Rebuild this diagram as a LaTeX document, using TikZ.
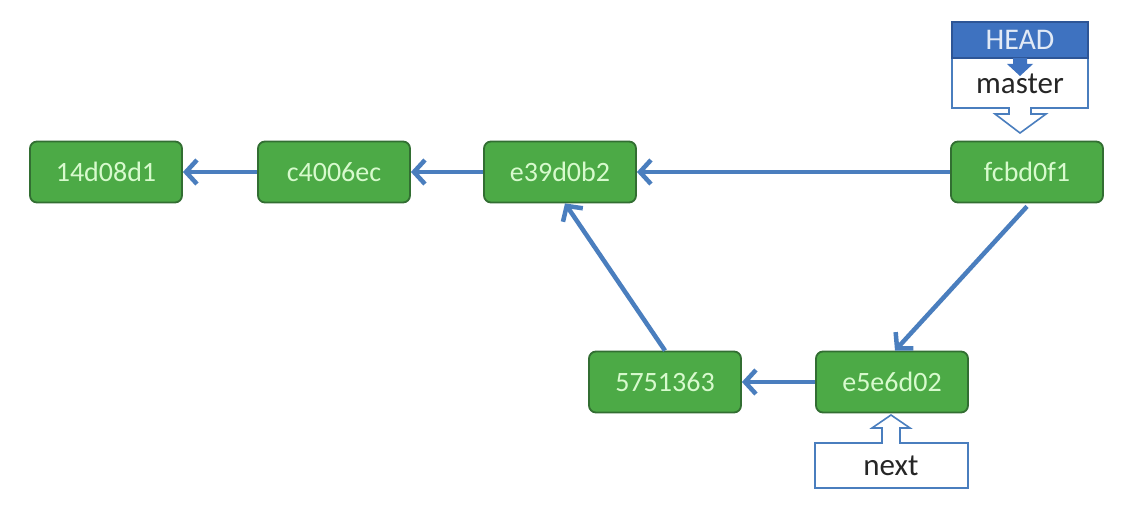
\documentclass[tikz,border=0pt]{standalone}
\usepackage{fontspec}
\setmainfont{Carlito}
\usetikzlibrary{arrows.meta}
\definecolor{cgreen}{RGB}{76,170,70}
\definecolor{cgreendark}{RGB}{50,110,50}
\definecolor{ctext}{RGB}{215,250,205}
\definecolor{cblue}{RGB}{74,126,190}
\definecolor{cbluedark}{RGB}{45,85,150}
\definecolor{headblue}{RGB}{62,114,192}
\tikzset{
  commit/.style={rectangle, rounded corners=7pt, fill=cgreen, draw=cgreendark, line width=1.8pt,
    minimum width=152pt, minimum height=61pt, text=ctext, font=\fontsize{28}{30}\selectfont},
  link/.style={draw=cblue, line width=4.5pt, -{Straight Barb[length=11pt,width=24pt,line width=4.5pt]}},
  callout/.style={draw=cblue, line width=1.6pt, fill=white},
  lbl/.style={font=\fontsize{31}{33}\selectfont, text=black!85},
}
\begin{document}
\begin{tikzpicture}[x=1pt,y=-1pt]
\useasboundingbox (0,0) rectangle (1126,508);
\fill[white] (0,0) rectangle (1126,508);

\node[commit] (a) at (106,172) {14d08d1};
\node[commit] (b) at (334,172) {c4006ec};
\node[commit] (c) at (560,172) {e39d0b2};
\node[commit] (d) at (1027,172) {fcbd0f1};
\node[commit] (e) at (665,382) {5751363};
\node[commit] (f) at (892,382) {e5e6d02};

\draw[link] (b.west) -- (a.east);
\draw[link] (c.west) -- (b.east);
\draw[link] (d.west) -- (c.east);
\draw[link] (d.south) ++(0,3) coordinate (ds) -- ([xshift=3pt]f.north) coordinate (fn);
\draw[link] (f.west) -- (e.east);
\draw[link] (e.north) -- ([xshift=5pt]c.south);

% master callout
\draw[callout] (952,58) -- (1088,58) -- (1088,108) -- (1031,108) -- (1031,114) -- (1046,114)
  -- (1020,133) -- (995,114) -- (1009,114) -- (1009,108) -- (952,108) -- cycle;
\node[lbl] (master) at (1020,84) {master};
% HEAD box
\node[rectangle, fill=headblue, draw=cbluedark, line width=1.2pt, minimum width=136pt, minimum height=36pt,
  text=white!85!headblue, font=\fontsize{30}{32}\selectfont] (head) at (1020,40) {HEAD};
\fill[headblue] (1013,58) -- (1027,58) -- (1027,64) -- (1033,64) -- (1020,76) -- (1007,64) -- (1013,64) -- cycle;

% next callout
\draw[callout] (815,443) -- (882,443) -- (882,428) -- (872,428) -- (891,415) -- (910,428)
  -- (900,428) -- (900,443) -- (968,443) -- (968,488) -- (815,488) -- cycle;
\node[lbl] (next) at (891,466) {next};
\end{tikzpicture}
\end{document}
